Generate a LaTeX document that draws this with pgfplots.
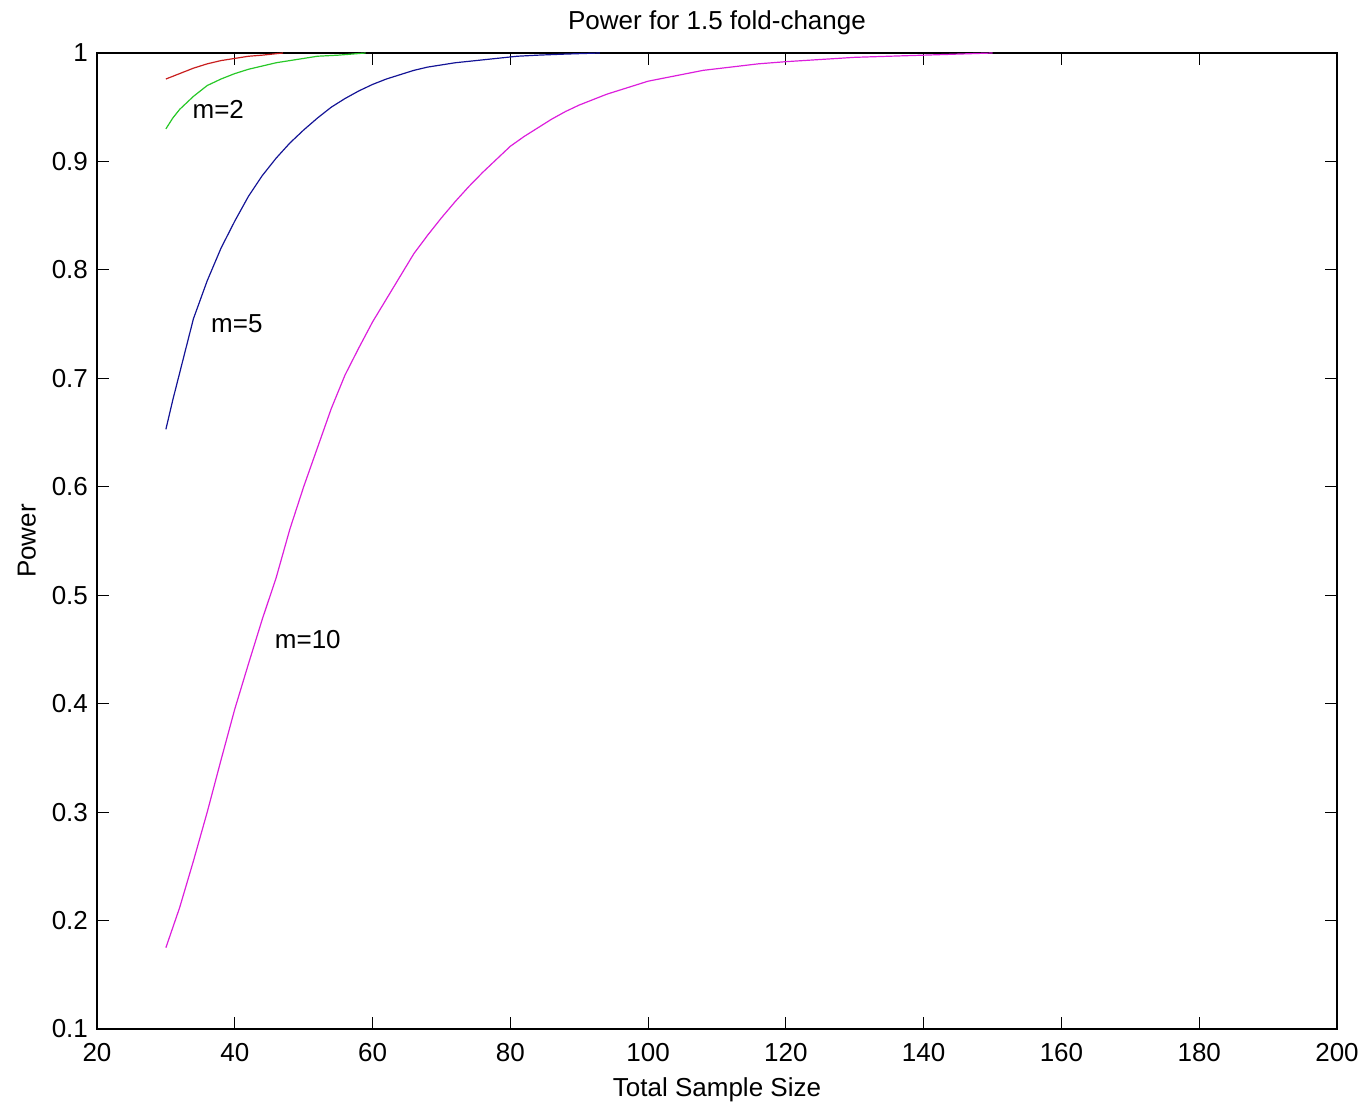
\documentclass[border=0pt]{standalone}
\usepackage{pgfplots}
\pgfplotsset{compat=1.18}
\usepackage{fontspec}
\setmainfont{Liberation Sans}
\definecolor{mred}{RGB}{200,30,30}
\definecolor{mgreen}{RGB}{40,200,40}
\definecolor{mblue}{RGB}{20,20,150}
\definecolor{mmag}{RGB}{220,30,220}
\begin{document}
\begin{tikzpicture}[font=\fontsize{13}{15.6}\selectfont]
\begin{axis}[
  scale only axis,
  width=620pt, height=488pt,
  xmin=20, xmax=200, ymin=0.1, ymax=1,
  xtick={20,40,...,200},
  ytick={0.1,0.2,0.3,0.4,0.5,0.6,0.7,0.8,0.9,1},
  yticklabels={0.1,0.2,0.3,0.4,0.5,0.6,0.7,0.8,0.9,1},
  xtick pos=both, ytick pos=both,
  tick align=inside,
  major tick length=6pt,
  tick style={black, line width=0.5pt},
  axis line style={black, line width=0.6pt},
  /pgf/number format/assume math mode=true,
  xticklabel style={yshift=-3.5pt},
  yticklabel style={xshift=-1pt},
  title={Power for 1.5 fold-change},
  title style={at={(axis description cs:0.5,1)}, anchor=base, yshift=5.5pt},
  xlabel={Total Sample Size},
  xlabel style={at={(axis description cs:0.5,-0.0625)}, anchor=center},
  ylabel={Power},
  ylabel style={at={(axis description cs:-0.0565,0.5)}, anchor=center},
  every axis plot/.append style={line width=0.6pt},
]
% m=1 (red)
\addplot[mred] coordinates {
(30,0.976) (32,0.981) (34,0.986) (36,0.990) (38,0.993) (40,0.995)
(42,0.997) (44,0.998) (47,1.000)};
% m=2 (green)
\addplot[mgreen] coordinates {
(30,0.930) (31,0.940) (32,0.948) (34,0.960) (36,0.970) (38,0.976)
(40,0.981) (42,0.985) (44,0.988) (46,0.991) (48,0.993) (50,0.995)
(52,0.997) (55,0.998) (59,1.000)};
% m=5 (blue)
\addplot[mblue] coordinates {
(30,0.653) (31,0.680) (32,0.705) (34,0.755) (36,0.790) (38,0.820)
(40,0.845) (42,0.868) (44,0.887) (46,0.903) (48,0.917) (50,0.929)
(52,0.940) (54,0.950) (56,0.958) (58,0.965) (60,0.971) (62,0.976)
(64,0.980) (66,0.984) (68,0.987) (70,0.989) (72,0.991) (75,0.993)
(78,0.995) (81,0.997) (84,0.998) (88,0.999) (93,1.000)};
% m=10 (magenta)
\addplot[mmag] coordinates {
(30,0.175) (32,0.212) (34,0.255) (36,0.300) (38,0.348) (40,0.395)
(42,0.437) (44,0.478) (46,0.516) (48,0.561) (50,0.600) (52,0.636)
(54,0.672) (56,0.703) (58,0.728) (60,0.752) (62,0.773) (64,0.794)
(66,0.815) (68,0.832) (70,0.848) (72,0.863) (74,0.877) (76,0.890)
(78,0.902) (80,0.914) (82,0.923) (84,0.931) (86,0.939) (88,0.946)
(90,0.952) (92,0.957) (94,0.962) (96,0.966) (98,0.970) (100,0.974)
(104,0.979) (108,0.984) (112,0.987) (116,0.990) (120,0.992) (125,0.994)
(130,0.996) (135,0.997) (140,0.998) (145,0.999) (150,1.000)};
\node at (axis cs:37.6,0.948) {m=2};
\node at (axis cs:40.3,0.750) {m=5};
\node at (axis cs:50.6,0.459) {m=10};
\end{axis}
\path (current axis.south west) ++(-48.5pt,-39.5pt) coordinate (bbA);
\path (current axis.north east) ++(15.5pt,26.5pt) coordinate (bbB);
\path (bbA) rectangle (bbB);
\end{tikzpicture}
\end{document}
